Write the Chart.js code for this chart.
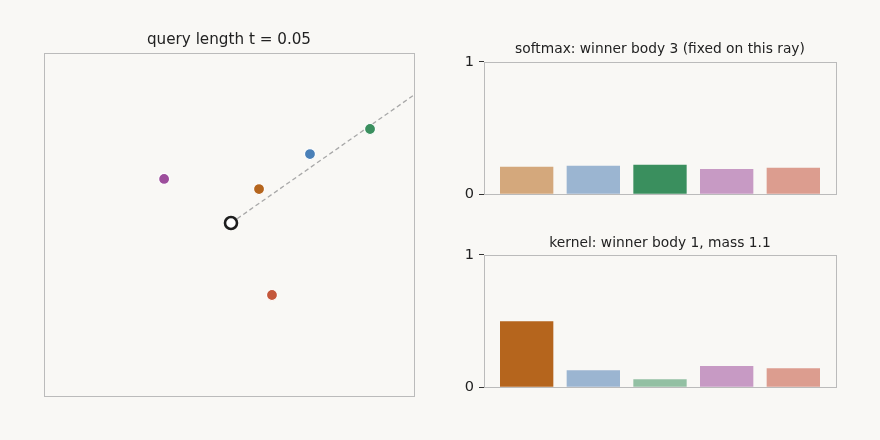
<!DOCTYPE html>
<html>
<head>
<meta charset="utf-8">
<script src="https://cdn.jsdelivr.net/npm/chart.js@4/dist/chart.umd.min.js"></script>
<style>
  html, body { margin: 0; padding: 0; background: #f9f8f5; }
  body { width: 880px; height: 440px; position: relative; overflow: hidden; }
  .box { position: absolute; }
</style>
</head>
<body>
<div class="box" style="left:34px;top:0px;width:390px;height:406px;"><canvas id="scatter" width="390" height="406"></canvas></div>
<div class="box" style="left:454px;top:0px;width:392px;height:208px;"><canvas id="soft" width="392" height="208"></canvas></div>
<div class="box" style="left:454px;top:210px;width:392px;height:191px;"><canvas id="kern" width="392" height="191"></canvas></div>
<script>
// ---- data ----
const bodyNames = ['body 1', 'body 2', 'body 3', 'body 4', 'body 5'];
const bodyX = [0.197, 0.555, 0.977, -0.470, 0.288];
const bodyY = [0.239, 0.485, 0.661, 0.310, -0.506];
const queryX = [0.0];
const queryY = [0.0];
const rayX = [0.0, 2.0];
const rayY = [0.0, 1.40];
const softmaxWeights = [0.208, 0.215, 0.223, 0.192, 0.200];
const kernelWeights = [0.500, 0.129, 0.061, 0.161, 0.144];
const barIndex = [0, 1, 2, 3, 4];
const yTicks = [0, 1];

// ---- styles ----
const fullColors = ['#b5651d', '#4a80b8', '#3a8f5e', '#9d4e9c', '#c4573b'];
const lightColors = ['#d4a87c', '#9bb5d1', '#93c0a3', '#c79ac4', '#dc9d8f'];
const FONT = 'DejaVu Sans';
const TEXT = '#222222';

Chart.defaults.font.family = FONT;
Chart.defaults.color = TEXT;

function drawBox(chart) {
  const a = chart.chartArea, ctx = chart.ctx;
  ctx.save();
  ctx.strokeStyle = '#bbbbbb';
  ctx.lineWidth = 1;
  const l = Math.round(a.left), t = Math.round(a.top);
  const r = Math.round(a.right), b = Math.round(a.bottom);
  ctx.strokeRect(l + 0.5, t + 0.5, r - l, b - t);
  ctx.restore();
}
const boxBelow = { id: 'boxBelow', beforeDatasetsDraw: drawBox };
const boxAbove = { id: 'boxAbove', afterDatasetsDraw: drawBox };

// ---- scatter ----
new Chart(document.getElementById('scatter'), {
  type: 'scatter',
  data: {
    datasets: [
      {
        data: queryX.map((x, i) => ({ x, y: queryY[i] })),
        pointRadius: 6,
        pointBackgroundColor: '#ffffff',
        pointBorderColor: '#1e1e1e',
        pointBorderWidth: 2.6,
        order: 0
      },
      {
        data: bodyX.map((x, i) => ({ x, y: bodyY[i] })),
        pointRadius: 5.5,
        pointBackgroundColor: fullColors,
        pointBorderColor: '#ffffff',
        pointBorderWidth: 1.2,
        order: 1
      },
      {
        data: rayX.map((x, i) => ({ x, y: rayY[i] })),
        showLine: true,
        pointRadius: 0,
        borderColor: '#a8a8a8',
        borderWidth: 1.3,
        borderDash: [4.5, 3],
        order: 2
      }
    ]
  },
  options: {
    responsive: false,
    animation: false,
    devicePixelRatio: 1,
    layout: { padding: { left: 10, right: 10, bottom: 10, top: 0 } },
    plugins: {
      legend: { display: false },
      tooltip: { enabled: false },
      title: {
        display: true,
        text: 'query length t = 0.05',
        color: TEXT,
        font: { family: FONT, size: 15.2, weight: 'normal', lineHeight: 1.2 },
        padding: { top: 31, bottom: 3.8 }
      }
    },
    scales: {
      x: { type: 'linear', min: -1.314, max: 1.286, display: false },
      y: { type: 'linear', min: -1.216, max: 1.195, display: false }
    }
  },
  plugins: [boxBelow]
});

// ---- bars ----
function barChart(id, title, values, colors, titlePad) {
  return new Chart(document.getElementById(id), {
    type: 'bar',
    data: {
      datasets: [{
        data: barIndex.map((x, i) => ({ x, y: values[i] })),
        backgroundColor: colors,
        borderWidth: 0,
        barPercentage: 0.8,
        categoryPercentage: 1.0
      }]
    },
    options: {
      responsive: false,
      animation: false,
      devicePixelRatio: 1,
      layout: { padding: { left: 0, right: 10, bottom: 12, top: 0 } },
      plugins: {
        legend: { display: false },
        tooltip: { enabled: false },
        title: {
          display: true,
          fullSize: false,
          text: title,
          color: TEXT,
          font: { family: FONT, size: 13.8, weight: 'normal', lineHeight: 1.2 },
          padding: titlePad
        }
      },
      scales: {
        x: {
          type: 'linear', min: -0.64, max: 4.64, offset: false, display: false,
          afterBuildTicks: (s) => { s.ticks = barIndex.map(v => ({ value: v })); }
        },
        y: {
          type: 'linear', min: 0, max: 1,
          afterFit: (s) => { s.width = 30; },
          afterBuildTicks: (s) => { s.ticks = yTicks.map(v => ({ value: v })); },
          border: { display: false },
          grid: { drawOnChartArea: false, drawTicks: true, tickLength: 5, color: '#333333', lineWidth: 1 },
          ticks: { color: TEXT, padding: 5, font: { family: FONT, size: 14.5 } }
        }
      }
    },
    plugins: [boxAbove]
  });
}

barChart('soft', 'softmax: winner body 3 (fixed on this ray)', softmaxWeights,
  [lightColors[0], lightColors[1], fullColors[2], lightColors[3], lightColors[4]],
  { top: 41, bottom: 4.4 });
barChart('kern', 'kernel: winner body 1, mass 1.1', kernelWeights,
  [fullColors[0], lightColors[1], lightColors[2], lightColors[3], lightColors[4]],
  { top: 25, bottom: 3.4 });
</script>
</body>
</html>
